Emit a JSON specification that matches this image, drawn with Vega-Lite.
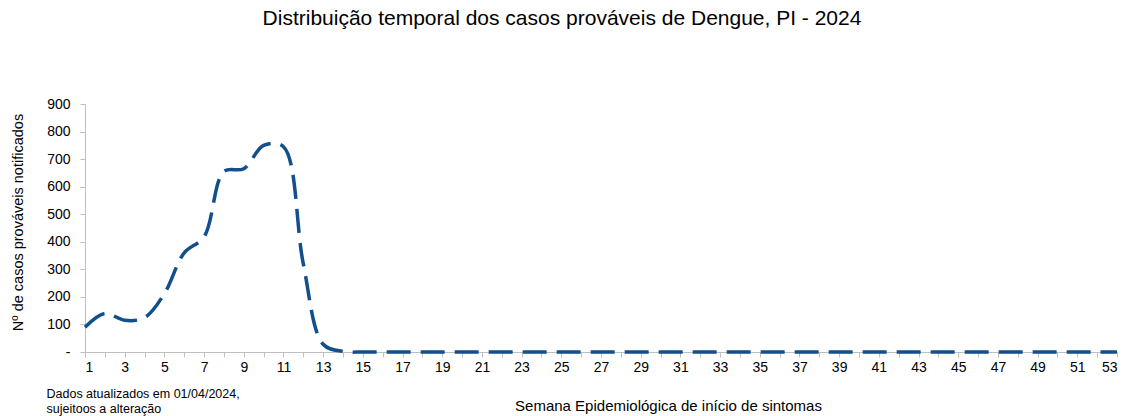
{
  "$schema": "https://vega.github.io/schema/vega-lite/v6.json",
  "width": 1032,
  "height": 248,
  "autosize": {"type": "none"},
  "padding": {"left": 85, "top": 104, "right": 18, "bottom": 64},
  "background": "white",
  "config": {"view": {"stroke": null}, "font": "Liberation Sans"},
  "title": {
    "text": "Distribuição temporal dos casos prováveis de Dengue, PI - 2024",
    "anchor": "middle",
    "frame": "group",
    "dx": -39,
    "offset": 68,
    "fontSize": 21,
    "fontWeight": "normal",
    "font": "Liberation Sans",
    "color": "#000000"
  },
  "data": {
    "values": [
      {"semana": 1, "casos": 90}, {"semana": 2, "casos": 140}, {"semana": 3, "casos": 115},
      {"semana": 4, "casos": 125}, {"semana": 5, "casos": 212}, {"semana": 6, "casos": 360},
      {"semana": 7, "casos": 418}, {"semana": 8, "casos": 655}, {"semana": 9, "casos": 665},
      {"semana": 10, "casos": 750}, {"semana": 11, "casos": 745}, {"semana": 12, "casos": 320},
      {"semana": 13, "casos": 28}, {"semana": 14, "casos": 2}, {"semana": 15, "casos": 0},
      {"semana": 16, "casos": 0}, {"semana": 17, "casos": 0}, {"semana": 18, "casos": 0},
      {"semana": 19, "casos": 0}, {"semana": 20, "casos": 0}, {"semana": 21, "casos": 0},
      {"semana": 22, "casos": 0}, {"semana": 23, "casos": 0}, {"semana": 24, "casos": 0},
      {"semana": 25, "casos": 0}, {"semana": 26, "casos": 0}, {"semana": 27, "casos": 0},
      {"semana": 28, "casos": 0}, {"semana": 29, "casos": 0}, {"semana": 30, "casos": 0},
      {"semana": 31, "casos": 0}, {"semana": 32, "casos": 0}, {"semana": 33, "casos": 0},
      {"semana": 34, "casos": 0}, {"semana": 35, "casos": 0}, {"semana": 36, "casos": 0},
      {"semana": 37, "casos": 0}, {"semana": 38, "casos": 0}, {"semana": 39, "casos": 0},
      {"semana": 40, "casos": 0}, {"semana": 41, "casos": 0}, {"semana": 42, "casos": 0},
      {"semana": 43, "casos": 0}, {"semana": 44, "casos": 0}, {"semana": 45, "casos": 0},
      {"semana": 46, "casos": 0}, {"semana": 47, "casos": 0}, {"semana": 48, "casos": 0},
      {"semana": 49, "casos": 0}, {"semana": 50, "casos": 0}, {"semana": 51, "casos": 0},
      {"semana": 52, "casos": 0}, {"semana": 53, "casos": 0}
    ]
  },
  "layer": [
    {
      "mark": {
        "type": "line",
        "interpolate": "catmull-rom",
        "color": "#124F8C",
        "strokeWidth": 3.5,
        "strokeDash": [24, 10],
        "clip": false
      },
      "encoding": {
        "x": {
          "field": "semana",
          "type": "quantitative",
          "scale": {"domain": [1, 53], "nice": false, "zero": false},
          "axis": {
            "values": [1,2,3,4,5,6,7,8,9,10,11,12,13,14,15,16,17,18,19,20,21,22,23,24,25,26,27,28,29,30,31,32,33,34,35,36,37,38,39,40,41,42,43,44,45,46,47,48,49,50,51,52,53],
            "labelExpr": "datum.value % 2 == 1 ? datum.label : ''",
            "grid": false,
            "domainColor": "#BFBFBF",
            "tickColor": "#BFBFBF",
            "tickSize": 5,
            "labelPadding": 3,
            "labelFontSize": 14,
            "labelColor": "#000000",
            "labelFont": "Liberation Sans",
            "labelOverlap": false,
            "title": "Semana Epidemiológica de início de sintomas",
            "titleFont": "Liberation Sans",
            "titleFontSize": 15,
            "titleFontWeight": "normal",
            "titleColor": "#000000",
            "titleX": 583,
            "titleY": 58,
            "titleBaseline": "alphabetic"
          }
        },
        "y": {
          "field": "casos",
          "type": "quantitative",
          "scale": {"domain": [0, 900], "nice": false},
          "axis": {
            "values": [0,100,200,300,400,500,600,700,800,900],
            "labelExpr": "datum.value == 0 ? '-' : datum.label",
            "grid": false,
            "domainColor": "#BFBFBF",
            "tickColor": "#BFBFBF",
            "tickSize": 5,
            "labelPadding": 10,
            "labelFontSize": 14,
            "labelColor": "#000000",
            "labelFont": "Liberation Sans",
            "title": "Nº de casos prováveis notificados",
            "titleFont": "Liberation Sans",
            "titleFontSize": 14.5,
            "titleFontWeight": "normal",
            "titleColor": "#000000",
            "titleX": -67,
            "titleY": 118,
            "titleBaseline": "middle",
            "titleAngle": -90
          }
        }
      }
    },
    {
      "mark": {"type": "point", "opacity": 0},
      "encoding": {
        "x": {
          "field": "semana",
          "type": "quantitative",
          "scale": {"domain": [1, 53], "nice": false, "zero": false},
          "axis": {
            "orient": "top",
            "domain": false,
            "ticks": false,
            "labels": false,
            "grid": false,
            "title": ["Dados atualizados em 01/04/2024,", "sujeitoos a alteração"],
            "titleFont": "Liberation Sans",
            "titleFontSize": 12.5,
            "titleFontWeight": "normal",
            "titleColor": "#000000",
            "titleAlign": "left",
            "titleBaseline": "alphabetic",
            "titleLineHeight": 15,
            "titleX": -39,
            "titleY": 293
          }
        }
      }
    }
  ],
  "resolve": {"scale": {"x": "independent"}, "axis": {"x": "independent"}}
}
